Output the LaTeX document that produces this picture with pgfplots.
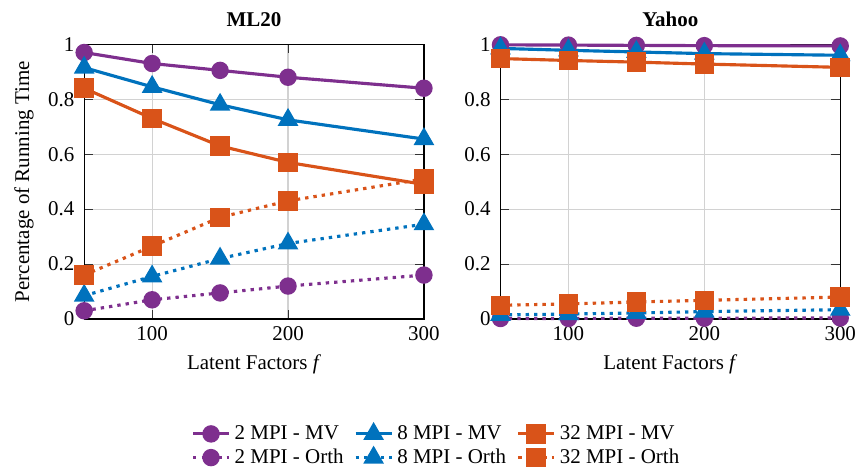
\documentclass[border=0pt]{standalone}
\usepackage{pgfplots}
\pgfplotsset{compat=1.18}
\usepackage{fontspec}
\setmainfont{Liberation Serif}
\definecolor{mpurple}{rgb}{0.494,0.184,0.556}
\definecolor{mblue}{rgb}{0,0.447,0.741}
\definecolor{morange}{rgb}{0.851,0.325,0.098}
\pgfplotsset{
  myax/.style={
    scale only axis, width=162pt, height=131pt,
    xmin=50, xmax=300, ymin=0, ymax=1,
    xtick={100,200,300}, ytick={0,0.2,0.4,0.6,0.8,1},
    yticklabels={0,0.2,0.4,0.6,0.8,1},
    grid=major, major grid style={gray!35, line width=0.5pt},
    tick align=inside, tick style={black!80},
    axis line style={black, line width=0.6pt},
    /pgf/number format/assume math mode=true,
    yticklabel style={xshift=-1.2pt},
    xlabel={Latent Factors \textit{f}},
    title style={font=\bfseries, yshift=-1pt},
    ylabel style={yshift=0pt},
    clip=false,
  },
  mv/.style={line width=1.5pt, solid},
  orth/.style={line width=1.5pt, dash pattern=on 1.6pt off 2.4pt},
  s2/.style={mpurple, mark=*, mark size=3.4pt, mark options={solid}},
  s8/.style={mblue, mark=triangle*, mark size=4.2pt, mark options={solid}},
  s32/.style={morange, mark=square*, mark size=3.9pt, mark options={solid}},
}
\begin{document}
\begin{tikzpicture}
\begin{axis}[myax, name=left, title={ML20}, ylabel={Percentage of Running Time},
  legend columns=3,
  legend style={at={(1.04,-0.355)}, anchor=north, draw=none, fill=none,
    row sep=-1pt,
    /tikz/every even column/.append style={column sep=3pt}},
  legend cell align=left]
\addplot[s2, mv] coordinates {(50,0.97) (100,0.93) (150,0.905) (200,0.88) (300,0.84)};
\addlegendentry{2 MPI - MV}
\addplot[s8, mv] coordinates {(50,0.915) (100,0.845) (150,0.78) (200,0.725) (300,0.655)};
\addlegendentry{8 MPI - MV}
\addplot[s32, mv] coordinates {(50,0.84) (100,0.73) (150,0.63) (200,0.57) (300,0.49)};
\addlegendentry{32 MPI - MV}
\addplot[s2, orth] coordinates {(50,0.03) (100,0.07) (150,0.095) (200,0.12) (300,0.16)};
\addlegendentry{2 MPI - Orth}
\addplot[s8, orth] coordinates {(50,0.085) (100,0.155) (150,0.22) (200,0.275) (300,0.345)};
\addlegendentry{8 MPI - Orth}
\addplot[s32, orth] coordinates {(50,0.16) (100,0.265) (150,0.37) (200,0.43) (300,0.51)};
\addlegendentry{32 MPI - Orth}
\end{axis}
\begin{axis}[myax, name=right, at={(left.south east)}, anchor=south west, xshift=36.5pt, title={Yahoo}]
\addplot[s2, mv] coordinates {(50,0.998) (100,0.997) (150,0.996) (200,0.995) (300,0.994)};
\addplot[s8, mv] coordinates {(50,0.985) (100,0.978) (150,0.972) (200,0.966) (300,0.96)};
\addplot[s32, mv] coordinates {(50,0.948) (100,0.941) (150,0.935) (200,0.928) (300,0.916)};
\addplot[s2, orth] coordinates {(50,0.002) (100,0.002) (150,0.003) (200,0.003) (300,0.004)};
\addplot[s8, orth] coordinates {(50,0.015) (100,0.018) (150,0.022) (200,0.027) (300,0.034)};
\addplot[s32, orth] coordinates {(50,0.05) (100,0.055) (150,0.062) (200,0.068) (300,0.08)};
\end{axis}
\path ([xshift=-3.5pt]left.outer west) ([xshift=0.5pt]right.outer east) ([yshift=2.5pt]left.outer north);
\end{tikzpicture}
\end{document}
